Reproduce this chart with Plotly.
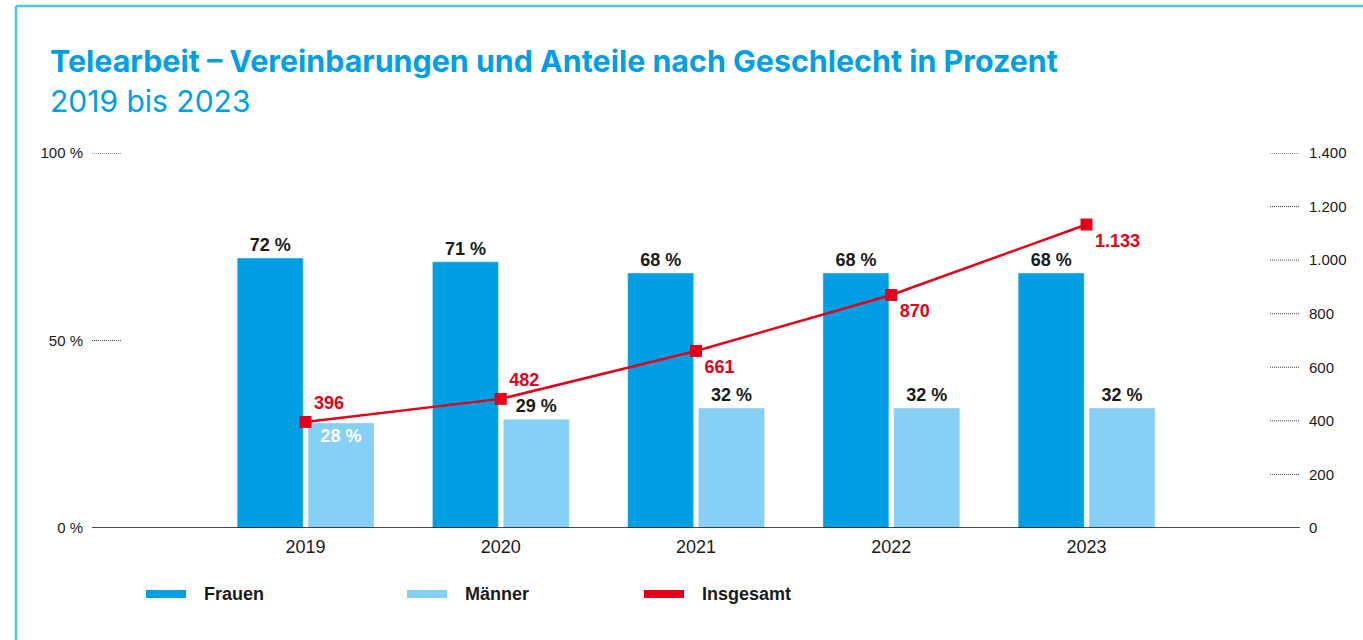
import plotly.graph_objects as go

years = [2019, 2020, 2021, 2022, 2023]
frauen = [72, 71, 68, 68, 68]
maenner = [28, 29, 32, 32, 32]
insgesamt = [396, 482, 661, 870, 1133]
insgesamt_text = ["396", "482", "661", "870", "1.133"]

left_ticks = [0, 50, 100]
left_ticktext = ["0 %", "50 %", "100 %"]
right_ticks = [0, 200, 400, 600, 800, 1000, 1200, 1400]
right_ticktext = ["0", "200", "400", "600", "800", "1.000", "1.200", "1.400"]

BLUE = "#009FE3"
LIGHT = "#86D0F5"
RED = "#E3001B"
TXT = "#1a1a1a"

W, H = 1363, 640
# reference pixel geometry (page coordinates)
PL, PR, PT, PB = 92, 1300, 153, 528
ML, MR, MT, MB = PL, W - PR, PT, H - PB
PW = PR - PL
PH = PB - PT

def px(x):
    return (x - PL) / PW

def py(y):
    return (PB - y) / PH

unit = 195.25
xr0 = years[0] - (305.5 - PL) / unit
xr1 = xr0 + PW / unit

fig = go.Figure()

fig.add_trace(go.Bar(
    x=years, y=frauen, name="Frauen", marker_color=BLUE,
    width=0.338, offset=-0.35,
    text=[f"{v} %" for v in frauen], textposition="outside",
    textfont=dict(family="Liberation Sans", size=18, color=TXT, weight="bold"),
    cliponaxis=False, showlegend=False, yaxis="y", hoverinfo="skip"))

fig.add_trace(go.Bar(
    x=years, y=maenner, name="Männer", marker_color=LIGHT,
    width=0.338, offset=0.013,
    text=[f"{v} %" for v in maenner],
    textposition=["inside", "outside", "outside", "outside", "outside"],
    insidetextanchor="end",
    textfont=dict(family="Liberation Sans", size=18, weight="bold",
                  color=["white", TXT, TXT, TXT, TXT]),
    cliponaxis=False, showlegend=False, yaxis="y", hoverinfo="skip"))

fig.add_trace(go.Scatter(
    x=years, y=insgesamt, name="Insgesamt", mode="lines+markers+text",
    line=dict(color=RED, width=2.5),
    marker=dict(symbol="square", size=12, color=RED),
    text=insgesamt_text,
    textposition=["top right", "top right", "bottom right", "bottom right", "bottom right"],
    textfont=dict(family="Liberation Sans", size=18, color=RED, weight="bold"),
    cliponaxis=False, showlegend=False, yaxis="y2", hoverinfo="skip"))

shapes = []
# frame
shapes.append(dict(type="line", xref="paper", yref="paper",
                   x0=px(16), x1=px(16), y0=py(6), y1=py(700),
                   line=dict(color="#4DC3F5", width=2.5)))
shapes.append(dict(type="line", xref="paper", yref="paper",
                   x0=px(16), x1=px(1400), y0=py(6), y1=py(6),
                   line=dict(color="#4DC3F5", width=2.5)))
# baseline
shapes.append(dict(type="line", xref="paper", yref="y", x0=0, x1=1, y0=0, y1=0,
                   line=dict(color="#111", width=1.5)))
# dotted ticks
for v in left_ticks[1:]:
    shapes.append(dict(type="line", xref="paper", yref="y", x0=0, x1=30 / PW,
                       y0=v, y1=v, line=dict(color="#444", width=1, dash="1px,1px")))
for v in right_ticks[1:]:
    shapes.append(dict(type="line", xref="paper", yref="y2", x0=1 - 30 / PW, x1=1,
                       y0=v, y1=v, line=dict(color="#444", width=1, dash="1px,1px")))

# legend (manual)
legend_items = [("Frauen", BLUE, 146), ("Männer", LIGHT, 407), ("Insgesamt", RED, 644)]
annotations = []
for name, col, x0 in legend_items:
    shapes.append(dict(type="rect", xref="paper", yref="paper",
                       x0=px(x0), x1=px(x0 + 40), y0=py(598), y1=py(590),
                       fillcolor=col, line=dict(width=0)))
    annotations.append(dict(text=f"<b>{name}</b>", xref="paper", yref="paper",
                            x=px(x0 + 56), y=py(594), xanchor="left", yanchor="middle",
                            showarrow=False,
                            font=dict(family="Liberation Sans", size=18, color=TXT)))

annotations.append(dict(text="<b>Telearbeit – Vereinbarungen und Anteile nach Geschlecht in Prozent</b>",
                        xref="paper", yref="paper", x=px(48), y=py(61),
                        xanchor="left", yanchor="middle", showarrow=False,
                        font=dict(family="Inter", size=30.4, color=BLUE)))
annotations.append(dict(text="2019 bis 2023",
                        xref="paper", yref="paper", x=px(48), y=py(101),
                        xanchor="left", yanchor="middle", showarrow=False,
                        font=dict(family="Inter", size=30, color=BLUE)))

fig.update_layout(
    width=W, height=H,
    margin=dict(l=ML, r=MR, t=MT, b=MB, pad=0),
    paper_bgcolor="white", plot_bgcolor="white",
    barmode="overlay",
    font=dict(family="Liberation Sans", color=TXT),
    xaxis=dict(range=[xr0, xr1], tickvals=years, ticktext=[str(y) for y in years],
               showgrid=False, zeroline=False, showline=False, ticks="",
               tickfont=dict(size=18, color=TXT), ticklabelstandoff=6),
    yaxis=dict(range=[0, 100], tickvals=left_ticks, ticktext=left_ticktext,
               showgrid=False, zeroline=False, showline=False, ticks="",
               tickfont=dict(size=15, color=TXT), ticklabelstandoff=8),
    yaxis2=dict(range=[0, 1400], tickvals=right_ticks, ticktext=right_ticktext,
                overlaying="y", side="right",
                showgrid=False, zeroline=False, showline=False, ticks="",
                tickfont=dict(size=15, color=TXT), ticklabelstandoff=8),
    shapes=shapes, annotations=annotations,
    showlegend=False,
)

fig.write_html("out.html",
               config={"displayModeBar": False},
               post_script="document.body.style.margin='0';document.body.style.overflow='hidden';")
